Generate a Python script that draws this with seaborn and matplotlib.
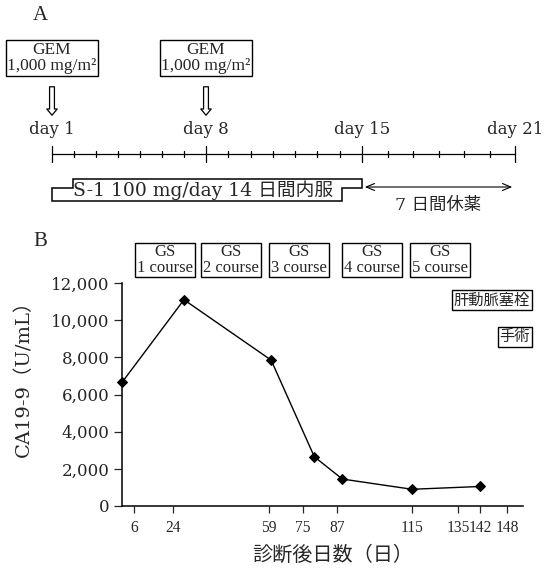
import numpy as np
import matplotlib
matplotlib.use("Agg")
import matplotlib.pyplot as plt
from matplotlib.patches import Polygon
from matplotlib.scale import FuncScale
import seaborn as sns

# ---------------- data ----------------
# Panel A (treatment schedule)
cycle_days = list(range(1, 22))
major_days = [1, 8, 15, 21]
day_labels = ["day 1", "day 8", "day 15", "day 21"]
gem_days = [1, 8]
gem_label = "GEM\n1,000 mg/m\u00b2"
s1_start, s1_end = 1, 15
rest_end = 21
s1_label = "S-1 100 mg/day 14 日間内服"
rest_label = "7 日間休薬"

# Panel B (CA19-9 course)
days = [1, 28, 60, 79, 89, 115, 142]
ca199 = [6650, 11100, 7850, 2650, 1450, 900, 1050]
xtick_days = [6, 24, 59, 75, 87, 115, 135, 142, 148]
ytick_vals = [0, 2000, 4000, 6000, 8000, 10000, 12000]
ytick_labels = ["0", "2,000", "4,000", "6,000", "8,000", "10,000", "12,000"]
course_labels = ["GS\n1 course", "GS\n2 course", "GS\n3 course", "GS\n4 course", "GS\n5 course"]
event_labels = ["肝動脈塞栓", "手術"]
ylabel = "CA19-9（U/mL）"
xlabel = "診断後日数（日）"

# ---------------- style ----------------
sns.set_style("white")
SERIF = ["DejaVu Serif", "Noto Sans CJK JP"]
TIMES = ["Liberation Serif", "Noto Sans CJK JP"]
plt.rcParams["font.family"] = SERIF

W, H = 554, 573
fig = plt.figure(figsize=(W / 100, H / 100), dpi=100)


def stretch_scale(ax, kd, kp):
    """Piecewise-linear axis stretch reproducing the hand-drawn original axis."""
    fwd = lambda x: np.interp(x, kd, kp)
    inv = lambda p: np.interp(p, kp, kd)
    ax.set_xscale(FuncScale(ax.xaxis, (fwd, inv)))


# ---------------- panel A ----------------
hA = 235
axA = fig.add_axes([0, 1 - hA / H, 1, hA / H])
stretch_scale(axA, [-1.5, 1, 8, 15, 21, 23.5], [0, 52, 206, 362, 515, 554])
axA.set_xlim(-1.5, 23.5)
axA.set_ylim(hA, 0)
axA.axis("off")

fig.text(40 / W, 1 - 15 / H, "A", fontsize=15, ha="center", va="center", family=TIMES)

for d in gem_days:
    axA.text(d, 58, gem_label, fontsize=12.5, ha="center", va="center", family=TIMES,
             linespacing=1.0,
             bbox=dict(boxstyle="square,pad=0.1", fc="white", ec="black", lw=1))
    axA.annotate("", xy=(d, 118), xytext=(d, 84),
                 arrowprops=dict(arrowstyle="simple,head_width=0.75,head_length=0.45,tail_width=0.35",
                                 fc="white", ec="black", lw=0.9))

for d, lab in zip(major_days, day_labels):
    axA.text(d, 130, lab, fontsize=12, ha="center", va="center")

axA.plot([cycle_days[0], cycle_days[-1]], [154, 154], color="black", lw=0.9)
for d in cycle_days:
    if d in major_days:
        axA.plot([d, d], [146, 162], color="black", lw=0.9)
    else:
        axA.plot([d, d], [151, 157], color="black", lw=0.9)

y_top, y_mid, y_bot = 179, 188, 201
poly = Polygon([(s1_start, y_bot), (s1_start, y_mid), (s1_start + 0.95, y_mid),
                (s1_start + 0.95, y_top), (s1_end, y_top), (s1_end, y_mid),
                (s1_end - 0.9, y_mid), (s1_end - 0.9, y_bot)],
               closed=True, fc="white", ec="black", lw=1.1)
axA.add_patch(poly)
axA.text(7.85, 190, s1_label, fontsize=13.5, ha="center", va="center")
axA.annotate("", xy=(rest_end, 187), xytext=(s1_end, 187),
             arrowprops=dict(arrowstyle="<->,head_width=0.25,head_length=0.6", color="black", lw=0.8))
axA.text((s1_end + rest_end) / 2, 205, rest_label, fontsize=12.5, ha="center", va="center")

# ---------------- panel B ----------------
left_px, right_px, top_px, bot_px = 122, 523, 283, 506
axB = fig.add_axes([left_px / W, 1 - bot_px / H, (right_px - left_px) / W, (bot_px - top_px) / H])
stretch_scale(axB, [1, 6, 24, 59, 75, 87, 115, 135, 142, 148, 155],
              [0, 12, 51, 147, 181, 215, 290, 336, 358, 385, 401])

sns.lineplot(x=days, y=ca199, ax=axB, color="black", lw=1.0, marker="D",
             markersize=4.8, markeredgecolor="black", markerfacecolor="black", clip_on=False)

axB.set_xlim(1, 155)
axB.set_ylim(0, 12000)
axB.set_xticks(xtick_days)
axB.set_xticklabels([str(d) for d in xtick_days], fontsize=11.2, family=TIMES)
axB.set_yticks(ytick_vals)
axB.set_yticklabels(ytick_labels, fontsize=12)
axB.tick_params(axis="x", direction="out", length=5, width=0.9, pad=5, bottom=True)
axB.tick_params(axis="y", direction="out", length=6, width=0.9, pad=3, left=True)
sns.despine(ax=axB)
for s in ["left", "bottom"]:
    axB.spines[s].set_linewidth(1.1)
    axB.spines[s].set_color("black")
axB.set_ylabel(ylabel, fontsize=14)
axB.yaxis.set_label_coords(-0.222, 0.595)
axB.set_xlabel(xlabel, fontsize=14.5)
axB.xaxis.set_label_coords(0.525, -0.178)

fig.text(40 / W, 1 - 242 / H, "B", fontsize=15, ha="center", va="center", family=TIMES)

course_centers_px = [165, 231, 299, 372, 440]
for cx, lab in zip(course_centers_px, course_labels):
    fig.text(cx / W, 1 - 260 / H, lab, fontsize=12, ha="center", va="center", family=TIMES,
             linespacing=0.95,
             bbox=dict(boxstyle="square,pad=0.1", fc="white", ec="black", lw=1))

fig.text(530 / W, 1 - 300 / H, event_labels[0], fontsize=11, ha="right", va="center",
         family=["Noto Sans CJK JP"],
         bbox=dict(boxstyle="square,pad=0.12", fc="white", ec="black", lw=1))
fig.text(530 / W, 1 - 337 / H, event_labels[1], fontsize=11, ha="right", va="center",
         family=["Noto Sans CJK JP"],
         bbox=dict(boxstyle="square,pad=0.12", fc="white", ec="black", lw=1))

fig.savefig("out.png", dpi=100, facecolor="white")
